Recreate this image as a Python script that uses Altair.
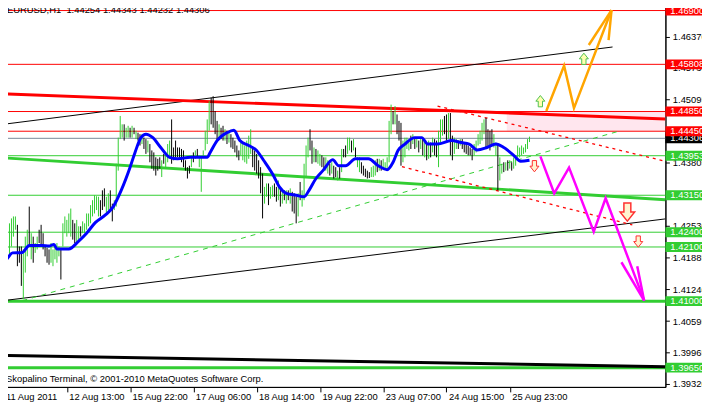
import altair as alt
import pandas as pd

FONT = "Liberation Sans"
FS = 9.5
GREEN = "#32CD32"

# ---------------- data ----------------
time_labels = ["11 Aug 2011", "12 Aug 13:00", "15 Aug 22:00", "17 Aug 06:00", "18 Aug 14:00",
               "19 Aug 22:00", "23 Aug 07:00", "24 Aug 15:00", "25 Aug 23:00"]
time_ticks = [0, 32, 64, 96, 128, 160, 192, 224, 256]
price_ticks = [1.46370, 1.45735, 1.45095, 1.43805, 1.42530,
               1.41885, 1.41240, 1.40595, 1.39965, 1.39320]

bar_dir = ("UDUUUUUDDD" "UUUDUDUUDD" "DDDDUUUUUD" "UUUUUDDUUD" "UUUUUUUUUD"
           "DDUUDDUUUU" "UDUUDUDUDD" "UDDUDDDDDD" "UDUUUDDDDD" "DDDDDUDUDU"
           "UUUUUDDDDU" "DDUDUDDDDD" "UUUUUUDDDD" "DDUUDUUDDU" "DUDUDUDDDU"
           "DUUUUDDUDU" "UDDUUDUDDU" "DUDDUUDUDU" "UDDDDDUUUD" "UDUUUUUDUD"
           "DDUUUUDUDU" "DUDUDUDUDD" "UUUDDUDDUU" "DUDDDDDDUU" "UUUUDDDDUU"
           "DUUDUDUDUU" "UUUUUUU")

bar_high = [
    1.4238, 1.4221, 1.4245, 1.4258, 1.4268, 1.4272, 1.4272, 1.4255, 1.4211, 1.4211,
    1.4205, 1.4231, 1.4245, 1.4292, 1.4238, 1.4231, 1.4218, 1.4231, 1.4245, 1.4255,
    1.4238, 1.4211, 1.4208, 1.4205, 1.4218, 1.4205, 1.4211, 1.4218, 1.4211, 1.4208,
    1.4258, 1.4272, 1.4265, 1.4278, 1.4288, 1.4265, 1.4258, 1.4265, 1.4252, 1.4252,
    1.4262, 1.4258, 1.4278, 1.4278, 1.4295, 1.4305, 1.4315, 1.4313, 1.4312, 1.4305,
    1.4325, 1.4329, 1.4312, 1.4319, 1.4325, 1.4298, 1.4305, 1.4379, 1.4432, 1.4476,
    1.4459, 1.4459, 1.4452, 1.4456, 1.4452, 1.4456, 1.4452, 1.4446, 1.4442, 1.4439,
    1.4439, 1.4432, 1.4429, 1.4426, 1.4419, 1.4406, 1.4402, 1.4392, 1.4389, 1.4392,
    1.4386, 1.4399, 1.4402, 1.4419, 1.4426, 1.4469, 1.4412, 1.4426, 1.4412, 1.4412,
    1.4409, 1.4406, 1.4386, 1.4372, 1.4375, 1.4396, 1.4402, 1.4406, 1.4409, 1.4396,
    1.4392, 1.4406, 1.4446, 1.4469, 1.4506, 1.4513, 1.4516, 1.4486, 1.4466, 1.4459,
    1.4452, 1.4456, 1.4449, 1.4446, 1.4442, 1.4439, 1.4432, 1.4426, 1.4416, 1.4406,
    1.4422, 1.4419, 1.4416, 1.4426, 1.4436, 1.4449, 1.4412, 1.4406, 1.4399, 1.4386,
    1.4372, 1.4359, 1.4332, 1.4339, 1.4339, 1.4332, 1.4335, 1.4339, 1.4332, 1.4345,
    1.4332, 1.4322, 1.4325, 1.4325, 1.4325, 1.4329, 1.4322, 1.4319, 1.4312, 1.4319,
    1.4342, 1.4325, 1.4379, 1.4416, 1.4432, 1.4449, 1.4426, 1.4412, 1.4409, 1.4406,
    1.4399, 1.4396, 1.4392, 1.4392, 1.4386, 1.4379, 1.4382, 1.4375, 1.4372, 1.4365,
    1.4372, 1.4409, 1.4409, 1.4416, 1.4432, 1.4432, 1.4426, 1.4429, 1.4412, 1.4392,
    1.4392, 1.4382, 1.4375, 1.4369, 1.4365, 1.4362, 1.4372, 1.4375, 1.4386, 1.4389,
    1.4389, 1.4386, 1.4389, 1.4382, 1.4392, 1.4466, 1.4499, 1.4486, 1.4496, 1.4479,
    1.4466, 1.4462, 1.4426, 1.4432, 1.4432, 1.4426, 1.4436, 1.4439, 1.4432, 1.4432,
    1.4426, 1.4432, 1.4429, 1.4426, 1.4422, 1.4426, 1.4422, 1.4432, 1.4429, 1.4426,
    1.4446, 1.4469, 1.4469, 1.4476, 1.4479, 1.4482, 1.4482, 1.4436, 1.4432, 1.4429,
    1.4426, 1.4429, 1.4429, 1.4422, 1.4419, 1.4416, 1.4412, 1.4409, 1.4419, 1.4426,
    1.4439, 1.4446, 1.4462, 1.4469, 1.4472, 1.4449, 1.4446, 1.4449, 1.4439, 1.4422,
    1.4416, 1.4392, 1.4379, 1.4382, 1.4382, 1.4386, 1.4386, 1.4382, 1.4392, 1.4396,
    1.4416, 1.4412, 1.4416, 1.4412, 1.4419, 1.4429, 1.4434,
]
bar_low = [
    1.4205, 1.4205, 1.4211, 1.4191, 1.4211, 1.4231, 1.4245, 1.4171, 1.4178, 1.4131,
    1.4104, 1.4158, 1.4191, 1.4211, 1.4185, 1.4178, 1.4198, 1.4205, 1.4218, 1.4211,
    1.4205, 1.4191, 1.4178, 1.4174, 1.4178, 1.4171, 1.4185, 1.4178, 1.4191, 1.4144,
    1.4211, 1.4238, 1.4231, 1.4238, 1.4231, 1.4225, 1.4218, 1.4218, 1.4225, 1.4231,
    1.4238, 1.4238, 1.4245, 1.4252, 1.4258, 1.4272, 1.4278, 1.4285, 1.4272, 1.4272,
    1.4285, 1.4292, 1.4278, 1.4285, 1.4285, 1.4262, 1.4285, 1.4292, 1.4365, 1.4429,
    1.4432, 1.4426, 1.4432, 1.4432, 1.4432, 1.4432, 1.4439, 1.4429, 1.4426, 1.4416,
    1.4419, 1.4409, 1.4399, 1.4402, 1.4382, 1.4369, 1.4365, 1.4355, 1.4365, 1.4369,
    1.4352, 1.4379, 1.4372, 1.4382, 1.4392, 1.4379, 1.4386, 1.4392, 1.4392, 1.4392,
    1.4382, 1.4372, 1.4365, 1.4349, 1.4359, 1.4372, 1.4382, 1.4389, 1.4392, 1.4372,
    1.4322, 1.4392, 1.4406, 1.4419, 1.4446, 1.4459, 1.4452, 1.4439, 1.4426, 1.4432,
    1.4429, 1.4426, 1.4426, 1.4419, 1.4422, 1.4412, 1.4409, 1.4402, 1.4392, 1.4386,
    1.4396, 1.4386, 1.4382, 1.4379, 1.4389, 1.4399, 1.4372, 1.4365, 1.4359, 1.4349,
    1.4319, 1.4268, 1.4298, 1.4312, 1.4295, 1.4308, 1.4312, 1.4312, 1.4302, 1.4305,
    1.4292, 1.4298, 1.4305, 1.4298, 1.4305, 1.4298, 1.4282, 1.4278, 1.4258, 1.4272,
    1.4305, 1.4292, 1.4305, 1.4352, 1.4392, 1.4406, 1.4379, 1.4382, 1.4382, 1.4379,
    1.4375, 1.4372, 1.4369, 1.4365, 1.4359, 1.4355, 1.4359, 1.4349, 1.4352, 1.4345,
    1.4349, 1.4362, 1.4392, 1.4392, 1.4399, 1.4406, 1.4402, 1.4406, 1.4392, 1.4372,
    1.4362, 1.4359, 1.4355, 1.4352, 1.4349, 1.4350, 1.4352, 1.4352, 1.4355, 1.4362,
    1.4365, 1.4365, 1.4369, 1.4369, 1.4365, 1.4382, 1.4439, 1.4459, 1.4459, 1.4439,
    1.4426, 1.4375, 1.4382, 1.4392, 1.4409, 1.4406, 1.4409, 1.4419, 1.4409, 1.4412,
    1.4402, 1.4409, 1.4396, 1.4392, 1.4386, 1.4389, 1.4392, 1.4402, 1.4396, 1.4392,
    1.4372, 1.4422, 1.4436, 1.4439, 1.4426, 1.4429, 1.4396, 1.4386, 1.4399, 1.4409,
    1.4409, 1.4416, 1.4409, 1.4402, 1.4399, 1.4396, 1.4396, 1.4386, 1.4396, 1.4402,
    1.4416, 1.4419, 1.4426, 1.4439, 1.4412, 1.4412, 1.4406, 1.4416, 1.4412, 1.4396,
    1.4325, 1.4345, 1.4359, 1.4362, 1.4365, 1.4365, 1.4369, 1.4365, 1.4369, 1.4375,
    1.4392, 1.4392, 1.4396, 1.4399, 1.4402, 1.4409, 1.4423,
]

ma_index = [0, 1.5, 4.5, 9.5, 13, 19.5, 23, 25.5, 27, 33, 38, 42, 46.5, 51.5, 55.5,
            59.5, 64, 66.5, 69.5, 72, 75.5, 79.5, 84, 88, 94.5, 103, 104.5, 108, 113, 116.5,
            119.5, 124, 128, 131.5, 136.5, 139.5, 143, 148, 152, 154.5, 158, 161.5, 166.5,
            169.5, 173, 178, 184.5, 189.5, 194, 197, 199.5, 203, 208, 211.5, 214.5, 219.5,
            226.5, 231.5, 235.5, 239.5, 244.5, 249, 253, 258, 261.5, 266]
ma_price = [1.4181, 1.4185, 1.4198, 1.4199, 1.4213, 1.4213, 1.4212, 1.4215, 1.4206, 1.4206,
            1.4222, 1.4238, 1.4260, 1.4275, 1.4292, 1.4325, 1.4372, 1.4402, 1.4432, 1.4439,
            1.4432, 1.4412, 1.4392, 1.4389, 1.4392, 1.4392, 1.4402, 1.4426, 1.4442, 1.4447,
            1.4426, 1.4416, 1.4406, 1.4386, 1.4355, 1.4332, 1.4319, 1.4315, 1.4312, 1.4325,
            1.4349, 1.4365, 1.4387, 1.4375, 1.4375, 1.4389, 1.4389, 1.4375, 1.4367, 1.4382,
            1.4406, 1.4419, 1.4432, 1.4432, 1.4419, 1.4419, 1.4426, 1.4422, 1.4419, 1.4407,
            1.4412, 1.4419, 1.4412, 1.4396, 1.4384, 1.4386]

red_levels = [1.46900, 1.45808, 1.44850, 1.44450]
green_levels = [1.43953, 1.43150, 1.42400, 1.42100]
green_thick_levels = [1.41000, 1.39650]
current_price = 1.44306

# trend lines (bar index, price) end points
upper_channel_i, upper_channel_p = [-0.25, 308], [1.4459, 1.4616]
lower_channel_i, lower_channel_p = [-0.25, 334.75], [1.4101, 1.4267]
bottom_line_i, bottom_line_p = [-0.25, 334.75], [1.3990, 1.3967]
green_trend_i, green_trend_p = [-0.25, 334.75], [1.4391, 1.4306]
red_trend_i, red_trend_p = [-0.25, 334.75], [1.4521, 1.4470]
green_dash_i, green_dash_p = [9.5, 312], [1.4101, 1.4446]
red_dash1_i, red_dash1_p = [219.5, 334.75], [1.4496, 1.4384]
red_dash2_i, red_dash2_p = [201.5, 318], [1.4373, 1.4255]
zone_i, zone_p = [254.5, 334.75], [1.44850, 1.44450]

# forecast paths
bull_i = [274.5, 283.5, 288.5, 307.5]
bull_p = [1.4486, 1.4578, 1.4492, 1.4691]
bull_head_i = [[296, 307.5], [306, 307.5]]
bull_head_p = [[1.4620, 1.4691], [1.4630, 1.4691]]
bear_i = [271.5, 278.5, 286, 298.5, 304.5, 324]
bear_p = [1.4394, 1.4319, 1.4371, 1.4241, 1.4309, 1.4101]
bear_head_i = [[312.5, 324], [320.5, 324]]
bear_head_p = [[1.4179, 1.4101], [1.4171, 1.4101]]

up_arrow_i, up_arrow_p = [271.5, 293.5], [1.4506, 1.4592]
down_arrow_i, down_arrow_p = [268.5, 321], [1.4374, 1.4221]
big_down_arrow_i, big_down_arrow_p = [315.5], [1.4281]

title_text = "EURUSD,H1\u00a0 1.44254 1.44343 1.44232 1.44306"
copyright_text = "Skopalino Terminal, \u00a9 2001-2010 MetaQuotes Software Corp."

# ---------------- chart ----------------
n = min(len(bar_high), len(bar_low), len(bar_dir))
bars = pd.DataFrame({"i": list(range(n)), "high": bar_high[:n], "low": bar_low[:n],
                     "dir": list(bar_dir[:n])})

x_scale = alt.Scale(domain=[-0.25, 334.75], nice=False, zero=False)
y_scale = alt.Scale(domain=[1.39259, 1.47026], nice=False, zero=False)

label_js = "[" + ",".join("'%s'" % s for s in time_labels) + "]"
x_axis = alt.Axis(values=time_ticks, labelExpr=label_js + "[round(datum.value/32)]",
                  title=None, grid=False, domainColor="black", tickColor="black",
                  tickSize=5, labelAlign="left", labelBaseline="top", labelPadding=0,
                  labelOffset=2, labelFont=FONT, labelFontSize=FS, labelColor="black",
                  labelOverlap=False, labelFlush=False)
y_axis = alt.Axis(orient="right", values=price_ticks, format=".5f", title=None, grid=False,
                  domainColor="black", tickColor="black", tickSize=4, labelPadding=3,
                  labelFont=FONT, labelFontSize=FS, labelColor="black", labelOverlap=False,
                  labelFlush=False)


def X(f):
    return alt.X(f, type="quantitative", scale=x_scale, axis=x_axis)


def Y(f):
    return alt.Y(f, type="quantitative", scale=y_scale, axis=y_axis)


def seg_df(i_list, p_list):
    return pd.DataFrame({"i": i_list, "p": p_list, "k": list(range(len(i_list)))})


def multi_df(i_lists, p_lists):
    rows = []
    for g, (il, pl) in enumerate(zip(i_lists, p_lists)):
        for k, (a, b) in enumerate(zip(il, pl)):
            rows.append({"i": a, "p": b, "k": k, "g": g})
    return pd.DataFrame(rows)


def line(df, **kw):
    enc = dict(x=X("i"), y=Y("p"), order=alt.Order("k:Q"))
    if "g" in df.columns:
        enc["detail"] = "g:N"
    return alt.Chart(df).mark_line(clip=True, **kw).encode(**enc)


layers = []

zone = pd.DataFrame({"i0": [zone_i[0]], "i1": [zone_i[1]], "p0": [zone_p[0]], "p1": [zone_p[1]]})
layers.append(alt.Chart(zone).mark_rect(color="#FFE6EE", clip=True).encode(
    x=X("i0"), x2="i1", y=Y("p0"), y2="p1"))

layers.append(alt.Chart(pd.DataFrame({"p": red_levels})).mark_rule(
    color="#FF0000", strokeWidth=1).encode(y=Y("p")))
layers.append(alt.Chart(pd.DataFrame({"p": green_levels})).mark_rule(
    color=GREEN, strokeWidth=1).encode(y=Y("p")))
layers.append(alt.Chart(pd.DataFrame({"p": green_thick_levels})).mark_rule(
    color=GREEN, strokeWidth=3).encode(y=Y("p")))
layers.append(alt.Chart(pd.DataFrame({"p": [current_price]})).mark_rule(
    color="#778899", strokeWidth=1).encode(y=Y("p")))

layers.append(line(multi_df([upper_channel_i, lower_channel_i], [upper_channel_p, lower_channel_p]),
                   color="black", strokeWidth=1))
layers.append(line(seg_df(bottom_line_i, bottom_line_p), color="black", strokeWidth=3))
layers.append(line(seg_df(green_trend_i, green_trend_p), color=GREEN, strokeWidth=3))
layers.append(line(seg_df(red_trend_i, red_trend_p), color="#FF0000", strokeWidth=3))
layers.append(line(seg_df(green_dash_i, green_dash_p), color=GREEN, strokeWidth=1,
                   strokeDash=[5, 5]))
layers.append(line(multi_df([red_dash1_i, red_dash2_i], [red_dash1_p, red_dash2_p]),
                   color="#FF0000", strokeWidth=1.3, strokeDash=[3, 4]))

layers.append(alt.Chart(bars).mark_rule(strokeWidth=1).encode(
    x=X("i"), y=Y("high"), y2="low",
    color=alt.Color("dir:N", scale=alt.Scale(domain=["U", "D"], range=[GREEN, "black"]),
                    legend=None)))

layers.append(alt.Chart(seg_df(ma_index, ma_price)).mark_line(
    color="#0000FF", strokeWidth=3, interpolate="monotone").encode(
    x=X("i"), y=Y("p"), order=alt.Order("k:Q")))

layers.append(line(seg_df(bull_i, bull_p), color="#FFA500", strokeWidth=2.5))
layers.append(line(multi_df(bull_head_i, bull_head_p), color="#FFA500", strokeWidth=2.5))
layers.append(line(seg_df(bear_i, bear_p), color="#FF00FF", strokeWidth=2.5))
layers.append(line(multi_df(bear_head_i, bear_head_p), color="#FF00FF", strokeWidth=2.5))

UP = "M-0.38,1L0.38,1L0.38,0L0.8,0L0,-1L-0.8,0L-0.38,0Z"
DOWN = "M-0.38,-1L0.38,-1L0.38,0L0.8,0L0,1L-0.8,0L-0.38,0Z"
layers.append(alt.Chart(seg_df(up_arrow_i, up_arrow_p)).mark_point(
    shape=UP, size=130, filled=True, fill="#FFFFB0", stroke="#50C050", strokeWidth=1,
    opacity=1).encode(x=X("i"), y=Y("p")))
layers.append(alt.Chart(seg_df(down_arrow_i, down_arrow_p)).mark_point(
    shape=DOWN, size=130, filled=True, fill="#FFF4D0", stroke="#FF3030", strokeWidth=1,
    opacity=1).encode(x=X("i"), y=Y("p")))
layers.append(alt.Chart(seg_df(big_down_arrow_i, big_down_arrow_p)).mark_point(
    shape=DOWN, size=340, filled=True, fill="#FFF4D0", stroke="#FF3030", strokeWidth=1.5,
    opacity=1).encode(x=X("i"), y=Y("p")))

# price label boxes on the right axis
BOX_X = 692


def boxes(levels, color):
    df = pd.DataFrame({"p": levels})
    b = alt.Chart(df).mark_tick(orient="horizontal", size=44, thickness=10, color=color,
                                opacity=1).encode(x=alt.value(BOX_X), y=Y("p"))
    t = alt.Chart(df).mark_text(align="left", baseline="middle", color="white", font=FONT,
                                fontSize=FS).encode(
        x=alt.value(675), y=Y("p"), text=alt.Text("p:Q", format=".5f"))
    return [b, t]


layers += boxes(green_levels + green_thick_levels, GREEN)
layers += boxes([current_price], "black")
layers += boxes(red_levels, "#FF0000")

layers.append(alt.Chart(pd.DataFrame({"t": [title_text]})).mark_text(
    align="left", baseline="middle", font=FONT, fontSize=FS, color="black").encode(
    x=alt.value(4), y=alt.value(6), text="t:N"))
layers.append(alt.Chart(pd.DataFrame({"t": [copyright_text]})).mark_text(
    align="left", baseline="middle", font=FONT, fontSize=FS, color="black").encode(
    x=alt.value(3), y=alt.value(379), text="t:N"))

chart = alt.layer(*layers).properties(
    width=670, height=387,
    autosize=alt.AutoSizeParams(type="none"),
    padding={"left": -5, "top": -6, "right": 37, "bottom": 17},
    background="white",
).configure_view(stroke="black", strokeWidth=1)

chart.save("out.html", embed_options={"renderer": "svg", "actions": False})
